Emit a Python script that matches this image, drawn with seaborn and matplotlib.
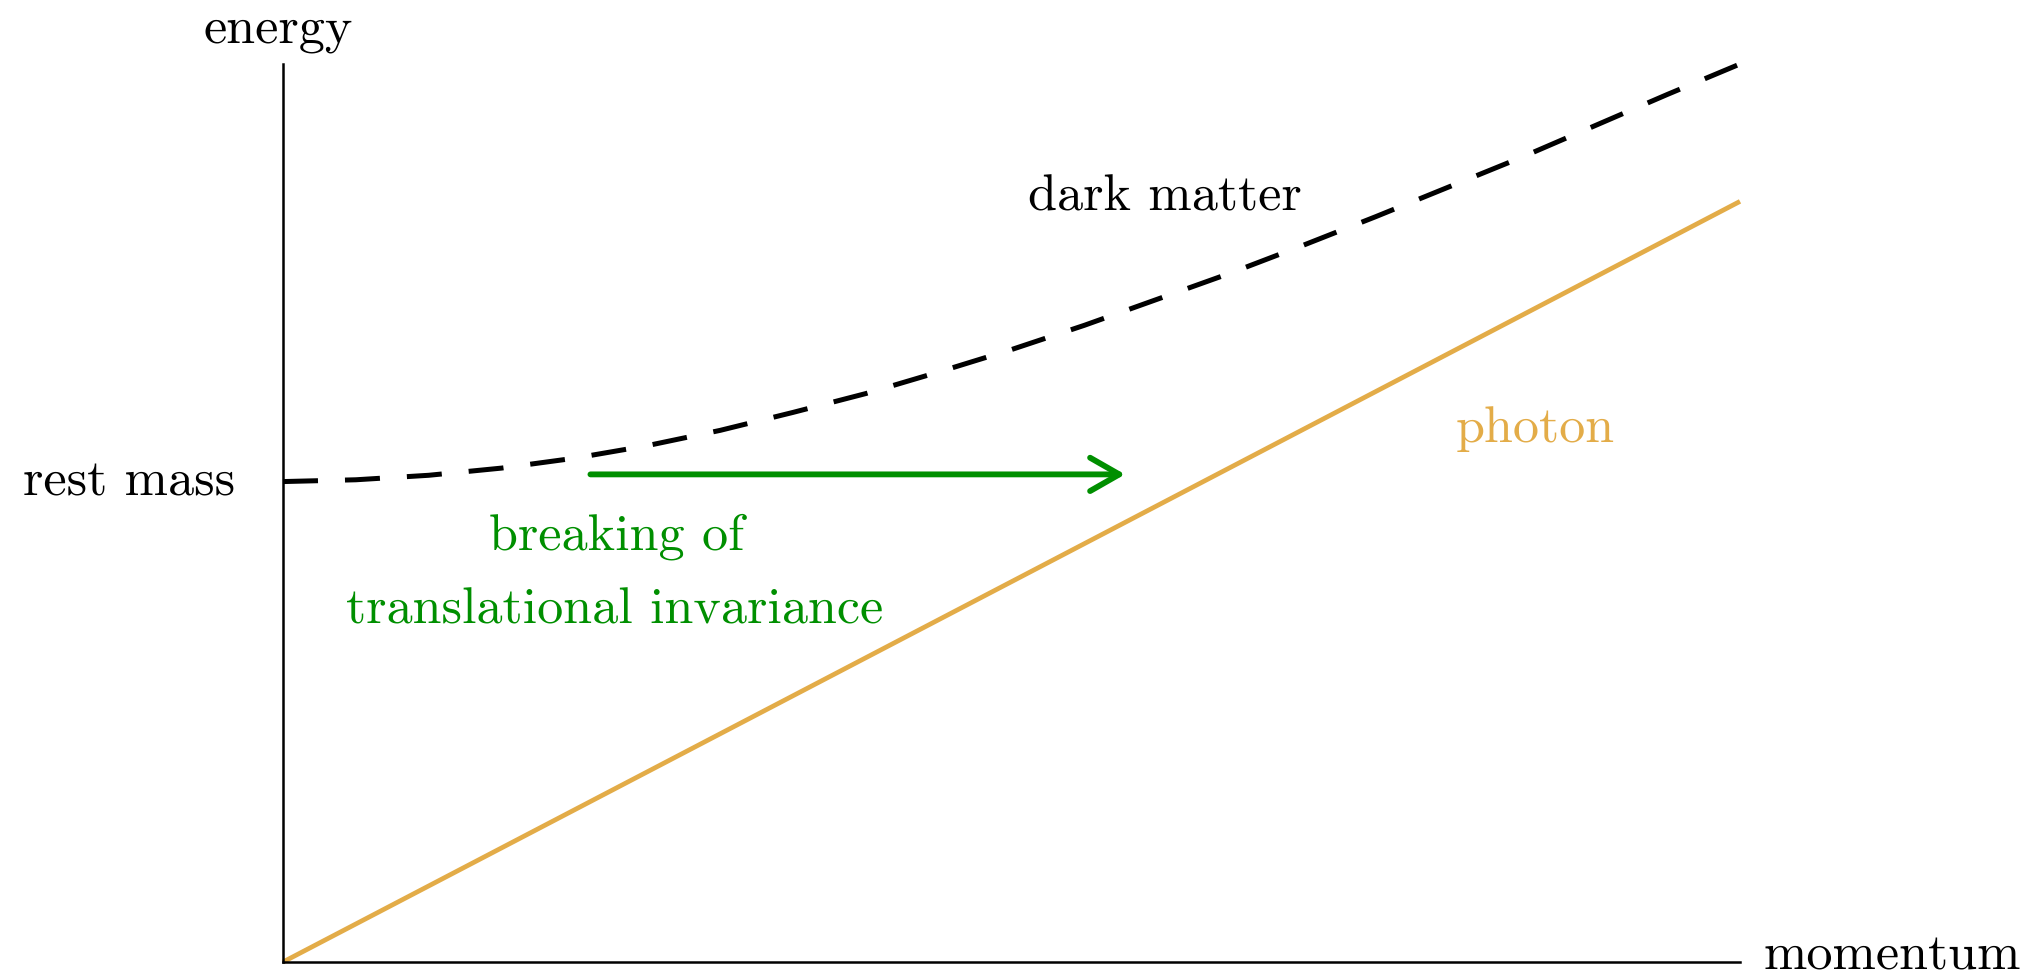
import matplotlib
matplotlib.use("Agg")
import matplotlib.pyplot as plt
import seaborn as sns
import pandas as pd

# ---- data ----
momentum = [0, 0.5, 1, 1.5, 2, 2.5, 3, 3.5, 4, 4.5, 5, 5.5, 6, 6.5, 7, 7.5, 8, 8.5, 9, 9.5, 10]
dark_matter_energy = [5.35, 5.37, 5.42, 5.50, 5.61, 5.75, 5.92, 6.12, 6.33, 6.57, 6.82, 7.09,
                      7.38, 7.67, 7.98, 8.30, 8.63, 8.96, 9.31, 9.66, 10.0]
photon_momentum = [0, 10]
photon_energy = [0, 8.47]
rest_mass = 5.35
arrow_x = [2.11, 5.78]
arrow_y = 5.43

labels = {
    "x": "momentum",
    "y": "energy",
    "rest": "rest mass",
    "dm": "dark matter",
    "ph": "photon",
    "brk1": "breaking of",
    "brk2": "translational invariance",
}

ORANGE = "#E3AC48"
GREEN = "#008F00"

sns.set_style("white")
plt.rcParams["font.family"] = ["cmr10", "DejaVu Serif"]
plt.rcParams["axes.unicode_minus"] = False
plt.rcParams["text.color"] = "black"
FS = 37.5

fig = plt.figure(figsize=(20.42, 9.78), dpi=100)
ax = fig.add_axes([283 / 2042, 15 / 978, 1457 / 2042, 898 / 978])

dm_df = pd.DataFrame({"p": momentum, "E": dark_matter_energy})
ph_df = pd.DataFrame({"p": photon_momentum, "E": photon_energy})

sns.lineplot(data=ph_df, x="p", y="E", ax=ax, color=ORANGE, linewidth=3.4,
             solid_capstyle="butt", clip_on=False)
sns.lineplot(data=dm_df, x="p", y="E", ax=ax, color="black", linewidth=3.6, clip_on=False)
dm = ax.lines[-1]
dm.set_linewidth(3.6)
dm.set_dashes((7.0, 5.4))
dm.set_dash_capstyle("butt")
ax.lines[0].set_linewidth(3.4)

ax.set_xlim(0, 10)
ax.set_ylim(0, 10)
ax.set_xticks([])
ax.set_yticks([])
ax.set_xlabel("")
ax.set_ylabel("")
for s in ["top", "right"]:
    ax.spines[s].set_visible(False)
for s in ["left", "bottom"]:
    ax.spines[s].set_color("black")
    ax.spines[s].set_linewidth(1.8)

# arrow
ax.annotate("", xy=(arrow_x[1], arrow_y), xytext=(arrow_x[0], arrow_y),
            arrowprops=dict(arrowstyle="->,head_length=21,head_width=12",
                            mutation_scale=1, color=GREEN, lw=4.2,
                            shrinkA=0, shrinkB=0))

# texts
ax.text(-0.034, 10.245, labels["y"], fontsize=FS, ha="center", va="baseline", clip_on=False, color="black")
ax.text(10.16, -0.07, labels["x"], fontsize=FS, ha="left", va="baseline", clip_on=False, color="black")
ax.text(-0.33, 5.21, labels["rest"], fontsize=FS, ha="right", va="baseline", clip_on=False, color="black")
ax.text(6.054, 8.385, labels["dm"], fontsize=FS, ha="center", va="baseline", color="black")
ax.text(8.593, 5.80, labels["ph"], fontsize=FS, ha="center", va="baseline", color=ORANGE)
ax.text(2.292, 4.61, labels["brk1"], fontsize=FS, ha="center", va="baseline", color=GREEN)
ax.text(2.279, 3.78, labels["brk2"], fontsize=FS, ha="center", va="baseline", color=GREEN)

fig.savefig("out.png", dpi=100, facecolor="white")
